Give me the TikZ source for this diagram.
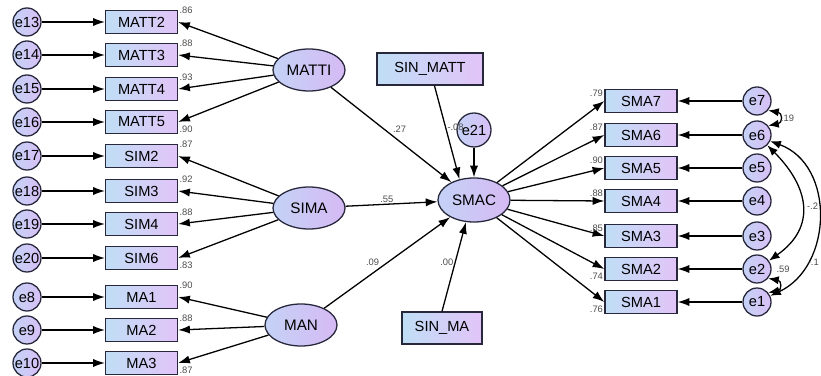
\documentclass[tikz,border=0pt]{standalone}
\usepackage{fontspec}
\setmainfont{Liberation Sans}
\usetikzlibrary{shapes.geometric,arrows.meta}

\definecolor{boxleft}{RGB}{192,222,246}
\definecolor{boxright}{RGB}{226,196,248}
\definecolor{latleft}{RGB}{196,210,246}
\definecolor{latright}{RGB}{214,186,244}
\definecolor{errfill}{RGB}{216,192,246}
\definecolor{edgeline}{RGB}{40,40,60}

\begin{document}
\begin{tikzpicture}[x=0.03cm,y=-0.03cm,
	obs/.style={draw=edgeline, line width=1.1pt, left color=boxleft, right color=boxright,
		minimum width=2.16cm, minimum height=0.69cm, inner sep=0pt, font=\fontsize{12.5}{14}\selectfont},
	lat/.style={ellipse, draw=edgeline, line width=1.1pt, left color=latleft, right color=latright,
		minimum width=2.16cm, minimum height=1.26cm, inner sep=0pt, font=\fontsize{13}{15}\selectfont},
	err/.style={circle, draw=edgeline, line width=1.1pt, left color=latleft, right color=errfill,
		minimum size=0.84cm, inner sep=0pt, font=\fontsize{12.5}{14}\selectfont},
	arr/.style={line width=1.1pt, -{Latex[length=10pt,width=7pt]}},
	cov/.style={line width=1.1pt, {Latex[length=9pt,width=7pt]}-{Latex[length=9pt,width=7pt]}},
	wt/.style={font=\fontsize{8}{9}\selectfont, text=black!70, inner sep=1pt}]
	\useasboundingbox (0,0) rectangle (821,376);

%	measurement side, left
	\foreach \e/\v/\y in {e13/MATT2/22, e14/MATT3/55, e15/MATT4/89, e16/MATT5/122,
		e17/SIM2/156, e18/SIM3/191, e19/SIM4/224, e20/SIM6/258, e8/MA1/297, e9/MA2/330, e10/MA3/363}{
		\node[err] (\e) at (27,\y) {\e};
		\node[obs] (\v) at (141.5,\y) {\v};
		\draw[arr] (\e) -- (\v);
	}

	\node[lat] (MATTI) at (309,70) {MATTI};
	\node[lat] (SIMA) at (309,208) {SIMA};
	\node[lat] (MAN) at (301,325) {MAN};
	\node[lat, minimum height=1.32cm] (SMAC) at (474,200) {SMAC};

	\foreach \l/\v/\w in {MATTI/MATT2/.86, MATTI/MATT3/.88, MATTI/MATT4/.93,
		SIMA/SIM2/.87, SIMA/SIM3/.92, SIMA/SIM4/.88, MAN/MA1/.90, MAN/MA2/.88}{
		\draw[arr] (\l) -- (\v.east);
		\node[wt, anchor=west] at (\v.north east) {\w};
	}
	\foreach \l/\v/\w in {MATTI/MATT5/.90, SIMA/SIM6/.83, MAN/MA3/.87}{
		\draw[arr] (\l) -- (\v.east);
		\node[wt, anchor=west] at ([yshift=4pt]\v.south east) {\w};
	}

%	measurement side, right
	\foreach \e/\v/\y in {e7/SMA7/101, e6/SMA6/135, e5/SMA5/168, e4/SMA4/201, e3/SMA3/236, e2/SMA2/269, e1/SMA1/302}{
		\node[obs] (\v) at (641,\y) {\v};
		\node[err] (\e) at (757,\y) {\e};
		\draw[arr] (\e) -- (\v);
		\draw[arr] (SMAC) -- (\v.west);
	}
	\foreach \v/\w in {SMA7/.79, SMA6/.87, SMA5/.90, SMA4/.88, SMA3/.85}
		\node[wt, anchor=east] at ([yshift=-3.5pt]\v.north west) {\w};
	\foreach \v/\w in {SMA2/.74, SMA1/.76}
		\node[wt, anchor=east] at ([yshift=4pt]\v.south west) {\w};

%	structural part
	\node[obs, minimum width=3.18cm, minimum height=0.96cm] (sinmatt) at (430,69) {SIN\_MATT};
	\node[obs, minimum width=2.4cm, minimum height=0.96cm] (sinma) at (442,328) {SIN\_MA};
	\node[err, minimum size=1.02cm] (e21) at (474,130) {e21};

	\draw[arr] (MATTI) -- (SMAC) node[wt, midway, above right] {.27};
	\draw[arr] (SIMA) -- (SMAC) node[wt, pos=0.45, above] {.55};
	\draw[arr] (MAN) -- (SMAC) node[wt, pos=0.45, above left] {.09};
	\draw[arr] (sinmatt) -- (SMAC.125) node[wt, pos=0.45, right] {-.08};
	\draw[arr] (sinma.north) -- (SMAC.250) node[wt, pos=0.55, left] {.00};
	\draw[arr] (e21) -- (SMAC);

%	covariances
	\draw[cov] (e7.-40) to[out=-10, in=10, looseness=2.5] node[wt, right] {.19} (e6.40);
	\draw[cov] (e2.-40) to[out=-10, in=10, looseness=2.5] (e1.40);
	\node[wt, anchor=west, xshift=3pt] at (e2.east) {.59};
	\draw[cov] (e6.-45) to[out=-45, in=35, looseness=1.3] node[wt, right, xshift=3pt] {-.2} (e2.35);
	\draw[cov] (e6.-25) to[out=-20, in=25, looseness=1.15] node[wt, pos=0.75, right] {-.1} (e1.25);
\end{tikzpicture}
\end{document}
